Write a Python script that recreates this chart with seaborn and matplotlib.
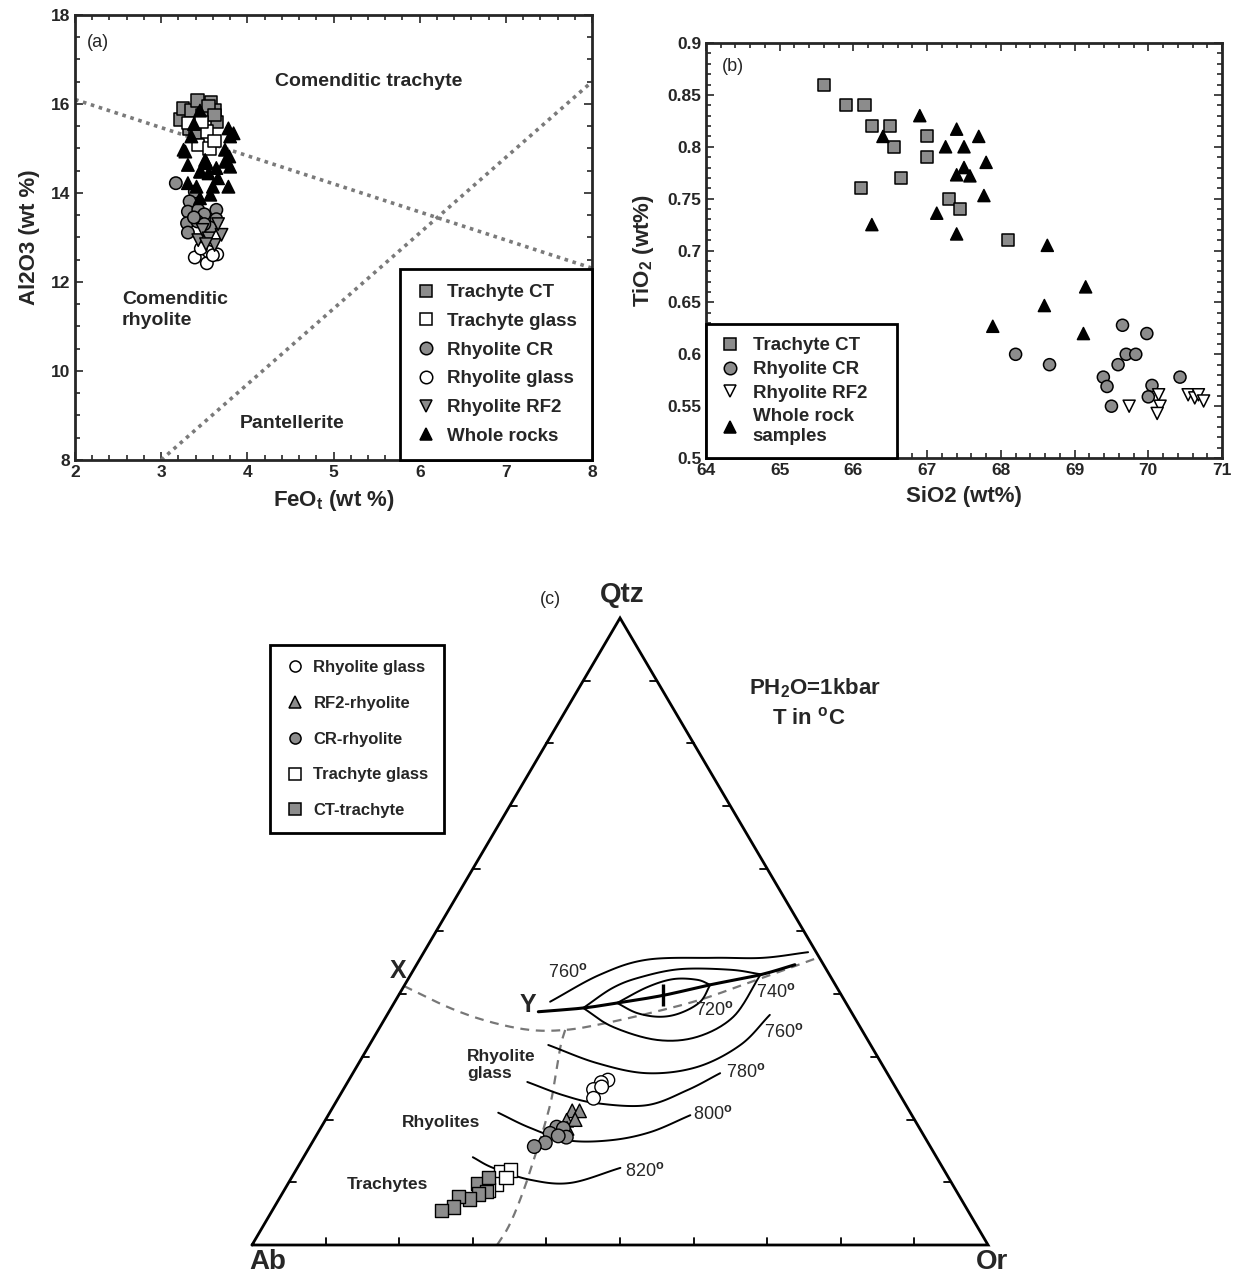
import numpy as np
import pandas as pd
import matplotlib
matplotlib.use("Agg")
import matplotlib.pyplot as plt
from matplotlib.lines import Line2D
from matplotlib.ticker import MultipleLocator, FuncFormatter
import seaborn as sns

sns.set_style("ticks")
plt.rcParams["font.family"] = ["Liberation Sans", "DejaVu Sans"]
plt.rcParams["font.weight"] = "bold"
plt.rcParams["axes.labelweight"] = "bold"
plt.rcParams["mathtext.fontset"] = "custom"
plt.rcParams["mathtext.rm"] = "Liberation Sans"
plt.rcParams["mathtext.bf"] = "Liberation Sans:bold"
plt.rcParams["mathtext.default"] = "bf"

GRAY = "#8c8c8c"

# ---------------- (a) FeOt vs Al2O3 ----------------
a_ct_feo = [3.22, 3.25, 3.35, 3.42, 3.48, 3.58, 3.62, 3.65, 3.32, 3.40, 3.55, 3.62]
a_ct_al = [15.65, 15.90, 15.85, 16.08, 15.75, 16.05, 15.85, 15.60, 15.45, 15.35, 15.95, 15.75]
a_tg_feo = [3.31, 3.43, 3.53, 3.56, 3.62, 3.47]
a_tg_al = [15.57, 15.08, 15.38, 15.00, 15.17, 15.60]
a_cr_feo = [3.17, 3.39, 3.33, 3.31, 3.43, 3.50, 3.64, 3.30, 3.42, 3.64, 3.57, 3.31, 3.50, 3.38]
a_cr_al = [14.22, 14.03, 13.81, 13.58, 13.62, 13.52, 13.62, 13.32, 13.36, 13.41, 13.22, 13.11, 13.30, 13.45]
a_rg_feo = [3.39, 3.53, 3.65, 3.55, 3.46, 3.60]
a_rg_al = [12.55, 12.42, 12.62, 12.68, 12.75, 12.60]
a_rf2_feo = [3.43, 3.48, 3.55, 3.62, 3.70, 3.66, 3.52]
a_rf2_al = [12.94, 13.17, 12.98, 12.83, 13.06, 13.30, 12.85]
a_wr_feo = [3.45, 3.38, 3.78, 3.80, 3.84, 3.26, 3.74, 3.28, 3.31, 3.51, 3.45, 3.55, 3.64,
            3.74, 3.80, 3.66, 3.41, 3.60, 3.78, 3.57, 3.45, 3.31, 3.53, 3.46, 3.79, 3.35]
a_wr_al = [15.85, 15.55, 15.45, 15.27, 15.34, 14.97, 14.97, 14.93, 14.63, 14.74, 14.48, 14.44, 14.56,
           14.70, 14.59, 14.33, 14.14, 14.14, 14.14, 13.96, 13.88, 14.22, 14.67, 14.48, 14.82, 15.27]
# dividing lines of the classification field
a_line1_x = [2.0, 8.0]
a_line1_y = [16.1, 12.31]
a_line2_x = [3.0, 8.0]
a_line2_y = [8.0, 16.5]

a_labels = ["Trachyte CT", "Trachyte glass", "Rhyolite CR", "Rhyolite glass", "Rhyolite RF2", "Whole rocks"]

# ---------------- (b) SiO2 vs TiO2 ----------------
b_ct_si = [65.6, 65.9, 66.15, 66.25, 66.5, 66.55, 67.0, 67.0, 66.65, 66.1, 67.3, 67.45, 68.1]
b_ct_ti = [0.86, 0.84, 0.84, 0.82, 0.82, 0.80, 0.81, 0.79, 0.77, 0.76, 0.75, 0.74, 0.71]
b_cr_si = [68.2, 68.66, 69.65, 69.98, 69.7, 69.83, 69.59, 69.39, 69.44, 69.5, 70.05, 70.0, 70.43]
b_cr_ti = [0.60, 0.59, 0.628, 0.62, 0.60, 0.60, 0.59, 0.578, 0.569, 0.55, 0.57, 0.559, 0.578]
b_rf2_si = [69.74, 70.14, 70.16, 70.12, 70.54, 70.63, 70.68, 70.75]
b_rf2_ti = [0.55, 0.561, 0.55, 0.543, 0.561, 0.558, 0.561, 0.555]
b_wr_si = [66.9, 66.4, 66.25, 67.25, 67.4, 67.7, 67.5, 67.5, 67.4, 67.58, 67.8, 67.77, 67.13,
           67.4, 68.63, 69.15, 68.59, 69.12, 67.89]
b_wr_ti = [0.83, 0.81, 0.725, 0.80, 0.817, 0.81, 0.80, 0.78, 0.773, 0.772, 0.785, 0.753, 0.736,
           0.716, 0.705, 0.665, 0.647, 0.62, 0.627]
b_labels = ["Trachyte CT", "Rhyolite CR", "Rhyolite RF2", "Whole rock\nsamples"]

# ---------------- (c) Qtz-Ab-Or (wt %, Ab = 100 - Qtz - Or) ----------------
c_rg_q = [26.3, 25.9, 24.8, 25.2, 23.4]
c_rg_or = [35.2, 34.5, 34.0, 34.9, 34.7]
c_rf2_q = [21.4, 21.4, 19.9, 20.0, 18.6]
c_rf2_or = [32.8, 33.8, 32.8, 33.9, 33.5]
c_cr_q = [18.8, 17.8, 18.6, 17.2, 16.3, 15.7, 17.4]
c_cr_or = [32.0, 31.6, 33.0, 34.1, 31.7, 30.5, 32.9]
c_tg_q = [11.7, 12.0, 9.7, 10.8, 8.8]
c_tg_or = [27.9, 29.1, 28.3, 29.1, 27.7]
c_ct_q = [9.8, 10.8, 8.5, 8.1, 7.3, 7.7, 6.1, 5.5]
c_ct_or = [25.8, 26.7, 27.6, 26.7, 25.9, 24.2, 24.3, 23.0]
c_labels = ["Rhyolite glass", "RF2-rhyolite", "CR-rhyolite", "Trachyte glass", "CT-trachyte"]

# phase boundaries (dashed)
bnd_x_q = [41.3, 37.8, 35.6, 34.3, 34.3, 35.2, 37.0, 39.1, 41.9, 44.2, 45.9]
bnd_x_or = [0.0, 8.0, 14.5, 20.6, 25.4, 29.7, 35.6, 41.3, 46.7, 51.0, 54.1]
bnd_v_q = [34.3, 31.9, 27.4, 23.1, 18.3, 14.4, 10.4, 6.1, 2.7, 0.0]
bnd_v_or = [25.4, 26.0, 27.6, 29.1, 30.4, 31.3, 32.2, 33.0, 33.4, 33.3]
# cotectic from Y
cot_q = [37.2, 37.8, 38.6, 39.8, 41.5, 43.1, 44.7]
cot_or = [20.3, 26.1, 30.3, 35.9, 41.5, 47.5, 51.4]
minimum_q, minimum_or = 39.8, 35.9
# isotherms
iso_720_up_q = [38.6, 41.1, 42.4, 42.3, 41.5]
iso_720_up_or = [30.3, 33.1, 36.0, 39.3, 41.5]
iso_720_lo_q = [38.6, 37.0, 36.4, 37.0, 38.8, 41.5]
iso_720_lo_or = [30.3, 33.8, 37.2, 39.7, 41.5, 41.5]
iso_740_up_q = [37.8, 41.0, 42.7, 44.0, 43.9, 43.2]
iso_740_up_or = [26.1, 28.5, 31.4, 36.2, 43.0, 47.4]
iso_740_lo_q = [37.8, 34.8, 32.7, 33.2, 36.4, 42.3, 43.1]
iso_740_lo_or = [26.1, 31.6, 38.7, 43.9, 47.2, 47.5, 47.5]
iso_760_up_q = [38.8, 43.1, 45.5, 45.8, 45.8, 46.7]
iso_760_up_or = [21.1, 25.7, 30.9, 39.7, 46.5, 52.2]
iso_760_lo_q = [31.9, 29.0, 27.4, 28.4, 31.9, 36.7]
iso_760_lo_or = [24.3, 32.4, 40.0, 46.3, 50.4, 52.0]
iso_780_q = [26.0, 23.9, 22.6, 22.3, 24.7, 27.4]
iso_780_or = [24.4, 30.3, 35.6, 42.5, 46.8, 49.9]
iso_800_q = [21.1, 18.7, 16.7, 16.7, 18.0, 20.7]
iso_800_or = [22.9, 28.4, 34.5, 40.3, 45.1, 49.2]
iso_820_q = [14.0, 12.3, 10.4, 9.9, 12.3]
iso_820_or = [23.0, 26.6, 32.6, 38.3, 43.9]

H = np.sqrt(3) / 2


def tern(q, o):
    q = np.asarray(q, float) / 100.0
    o = np.asarray(o, float) / 100.0
    return o + q / 2.0, q * H


def smooth(xs, ys, n=24):
    pts = np.column_stack([xs, ys])
    P = np.vstack([2 * pts[0] - pts[1], pts, 2 * pts[-1] - pts[-2]])
    out = []
    t = np.linspace(0, 1, n, endpoint=False)[:, None]
    for i in range(1, len(P) - 2):
        p0, p1, p2, p3 = P[i - 1], P[i], P[i + 1], P[i + 2]
        seg = 0.5 * ((2 * p1) + (-p0 + p2) * t + (2 * p0 - 5 * p1 + 4 * p2 - p3) * t ** 2
                     + (-p0 + 3 * p1 - 3 * p2 + p3) * t ** 3)
        out.append(seg)
    out.append(pts[-1][None])
    s = np.vstack(out)
    return s[:, 0], s[:, 1]


def style_frame(ax):
    for sp in ax.spines.values():
        sp.set_linewidth(2)
        sp.set_visible(True)
    ax.tick_params(which="both", direction="in", top=True, right=True, width=1.2, labelsize=12.5)
    ax.tick_params(which="major", length=6)
    ax.tick_params(which="minor", length=3.5)


def boxed_legend(ax, handles, labels, **kw):
    leg = ax.legend(handles, labels, frameon=True, fancybox=False, framealpha=1,
                    edgecolor="black", prop={"weight": "bold", "size": kw.pop("size", 13.5)},
                    **kw)
    leg.get_frame().set_linewidth(2)
    return leg


fig = plt.figure(figsize=(12.36, 12.77), dpi=100)

# ================= panel (a) =================
axa = fig.add_axes([0.0607, 0.6398, 0.4183, 0.3485])
groups_a = [
    (a_ct_feo, a_ct_al, "s", GRAY, 85),
    (a_tg_feo, a_tg_al, "s", "white", 85),
    (a_cr_feo, a_cr_al, "o", GRAY, 75),
    (a_rg_feo, a_rg_al, "o", "white", 75),
    (a_rf2_feo, a_rf2_al, "v", GRAY, 85),
    (a_wr_feo, a_wr_al, "^", "black", 85),
]
rows = []
for lab, (xs, ys, m, c, s) in zip(a_labels, groups_a):
    for x, y in zip(xs, ys):
        rows.append({"FeOt": x, "Al2O3": y, "Type": lab})
dfa = pd.DataFrame(rows)
axa.plot(a_line1_x, a_line1_y, ls=(0, (1, 1.3)), lw=2.6, color="#7a7a7a", zorder=1)
axa.plot(a_line2_x, a_line2_y, ls=(0, (1, 1.3)), lw=2.6, color="#7a7a7a", zorder=1)
sns.scatterplot(data=dfa, x="FeOt", y="Al2O3", hue="Type", style="Type",
                hue_order=a_labels, style_order=a_labels,
                palette={l: g[3] for l, g in zip(a_labels, groups_a)},
                markers={l: g[2] for l, g in zip(a_labels, groups_a)},
                s=80, edgecolor="black", linewidth=1.1, legend=False, ax=axa, zorder=3)
axa.set_xlim(2, 8)
axa.set_ylim(8, 18)
axa.xaxis.set_major_locator(MultipleLocator(1))
axa.xaxis.set_minor_locator(MultipleLocator(0.2))
axa.yaxis.set_major_locator(MultipleLocator(2))
axa.yaxis.set_minor_locator(MultipleLocator(0.5))
style_frame(axa)
axa.set_xlabel(r"FeO$_\mathbf{t}$ (wt %)", fontsize=16, labelpad=6)
axa.set_ylabel("Al2O3 (wt %)", fontsize=16, labelpad=8)
axa.text(2.27, 17.37, "(a)", fontsize=13, fontweight="normal", ha="center", va="center")
axa.text(5.41, 16.5, "Comenditic trachyte", fontsize=14, ha="center", va="center")
axa.text(2.545, 11.37, "Comenditic\nrhyolite", fontsize=14, ha="left", va="center", linespacing=1.3)
axa.text(4.52, 8.83, "Pantellerite", fontsize=14, ha="center", va="center")
ha_ = [Line2D([], [], ls="", marker=g[2], mfc=g[3], mec="black", mew=1.1, ms=9) for g in groups_a]
boxed_legend(axa, ha_, a_labels, loc="lower left", bbox_to_anchor=(0.629, 0.0, 0.371, 0.458),
             mode="expand", labelspacing=0.62, handletextpad=0.5, borderpad=0.8,
             handlelength=1.2, borderaxespad=0)

# ================= panel (b) =================
axb = fig.add_axes([0.5712, 0.6413, 0.4175, 0.325])
groups_b = [
    (b_ct_si, b_ct_ti, "s", GRAY),
    (b_cr_si, b_cr_ti, "o", GRAY),
    (b_rf2_si, b_rf2_ti, "v", "white"),
    (b_wr_si, b_wr_ti, "^", "black"),
]
rows = []
for lab, (xs, ys, m, c) in zip(b_labels, groups_b):
    for x, y in zip(xs, ys):
        rows.append({"SiO2": x, "TiO2": y, "Type": lab})
dfb = pd.DataFrame(rows)
sns.scatterplot(data=dfb, x="SiO2", y="TiO2", hue="Type", style="Type",
                hue_order=b_labels, style_order=b_labels,
                palette={l: g[3] for l, g in zip(b_labels, groups_b)},
                markers={l: g[2] for l, g in zip(b_labels, groups_b)},
                s=75, edgecolor="black", linewidth=1.1, legend=False, ax=axb, zorder=3)
axb.set_xlim(64, 71)
axb.set_ylim(0.5, 0.9)
axb.xaxis.set_major_locator(MultipleLocator(1))
axb.xaxis.set_minor_locator(MultipleLocator(0.2))
axb.yaxis.set_major_locator(MultipleLocator(0.05))
axb.yaxis.set_minor_locator(MultipleLocator(0.01))
axb.yaxis.set_major_formatter(FuncFormatter(lambda v, p: f"{v:g}"))
style_frame(axb)
axb.set_xlabel("SiO2 (wt%)", fontsize=16, labelpad=6)
axb.set_ylabel(r"TiO$_2$ (wt%)", fontsize=16, labelpad=8)
axb.text(64.36, 0.877, "(b)", fontsize=13, fontweight="normal", ha="center", va="center")
hb_ = [Line2D([], [], ls="", marker=g[2], mfc=g[3], mec="black", mew=1.1, ms=9) for g in groups_b]
boxed_legend(axb, hb_, b_labels, loc="lower left", bbox_to_anchor=(0.0, 0.0, 0.37, 0.39),
             mode="expand", labelspacing=0.35, handletextpad=0.6, borderpad=0.7,
             handlelength=1.2, borderaxespad=0)

# ================= panel (c) =================
axc = fig.add_axes([0.2039, 0.02506, 0.5955, 0.491])
axc.set_xlim(0, 1)
axc.set_ylim(0, H)
axc.axis("off")

# triangle frame and 10 % ticks
axc.plot([0, 1, 0.5, 0], [0, 0, H, 0], color="black", lw=2, clip_on=False, zorder=2,
         solid_joinstyle="miter")
tx, ty = 7 / 736, 7 * H / 627
for k in range(1, 10):
    f = k / 10
    axc.plot([f, f], [0, ty], color="black", lw=1.3)
    axc.plot([f / 2, f / 2 + tx], [f * H, f * H], color="black", lw=1.3)
    axc.plot([1 - f / 2, 1 - f / 2 - tx], [f * H, f * H], color="black", lw=1.3)

dash = dict(color="#777777", lw=1.6, ls=(0, (4, 3)), zorder=1)
axc.plot(*smooth(*tern(bnd_x_q, bnd_x_or)), **dash)
axc.plot(*smooth(*tern(bnd_v_q, bnd_v_or)), **dash)

solid = dict(color="black", lw=1.4, zorder=2)
for q, o in [(iso_720_up_q, iso_720_up_or), (iso_720_lo_q, iso_720_lo_or),
             (iso_740_up_q, iso_740_up_or), (iso_740_lo_q, iso_740_lo_or),
             (iso_760_up_q, iso_760_up_or), (iso_760_lo_q, iso_760_lo_or),
             (iso_780_q, iso_780_or), (iso_800_q, iso_800_or), (iso_820_q, iso_820_or)]:
    axc.plot(*smooth(*tern(q, o)), **solid)
axc.plot(*smooth(*tern(cot_q, cot_or)), color="black", lw=2.2, zorder=2)
mx, my = tern([minimum_q], [minimum_or])
axc.plot(mx, my, marker="|", ms=16, mew=2.4, color="black", ls="", zorder=3)

groups_c = [
    (c_rg_q, c_rg_or, "o", "white"),
    (c_rf2_q, c_rf2_or, "^", GRAY),
    (c_cr_q, c_cr_or, "o", GRAY),
    (c_tg_q, c_tg_or, "s", "white"),
    (c_ct_q, c_ct_or, "s", GRAY),
]
rows = []
for lab, (qs, os_, m, c) in zip(c_labels, groups_c):
    xs, ys = tern(qs, os_)
    for x, y in zip(xs, ys):
        rows.append({"x": x, "y": y, "Type": lab})
dfc = pd.DataFrame(rows)
sns.scatterplot(data=dfc, x="x", y="y", hue="Type", style="Type",
                hue_order=c_labels, style_order=c_labels,
                palette={l: g[3] for l, g in zip(c_labels, groups_c)},
                markers={l: g[2] for l, g in zip(c_labels, groups_c)},
                s=95, edgecolor="black", linewidth=1.0, legend=False, ax=axc, zorder=4)
axc.set_xlabel("")
axc.set_ylabel("")

T = axc.transAxes
axc.text(0.503, 1.037, "Qtz", transform=T, fontsize=20, ha="center", va="center")
axc.text(0.406, 1.030, "(c)", transform=T, fontsize=13, fontweight="normal", ha="center", va="center")
axc.text(0.022, -0.027, "Ab", transform=T, fontsize=20, ha="center", va="center")
axc.text(1.005, -0.027, "Or", transform=T, fontsize=20, ha="center", va="center")
axc.text(0.198, 0.437, "X", transform=T, fontsize=18, ha="center", va="center")
axc.text(0.375, 0.383, "Y", transform=T, fontsize=18, ha="center", va="center")
iso_txt = dict(transform=T, fontsize=13, fontweight="normal", ha="center", va="center")
axc.text(0.429, 0.435, r"760$^{\mathrm{o}}$", **iso_txt)
axc.text(0.629, 0.375, r"720$^{\mathrm{o}}$", **iso_txt)
axc.text(0.712, 0.4035, r"740$^{\mathrm{o}}$", **iso_txt)
axc.text(0.723, 0.340, r"760$^{\mathrm{o}}$", **iso_txt)
axc.text(0.671, 0.276, r"780$^{\mathrm{o}}$", **iso_txt)
axc.text(0.626, 0.209, r"800$^{\mathrm{o}}$", **iso_txt)
axc.text(0.534, 0.118, r"820$^{\mathrm{o}}$", **iso_txt)
axc.text(0.292, 0.287, "Rhyolite\nglass", transform=T, fontsize=12.5, ha="left", va="center",
         linespacing=1.1)
axc.text(0.310, 0.196, "Rhyolites", transform=T, fontsize=12.5, ha="right", va="center")
axc.text(0.239, 0.0957, "Trachytes", transform=T, fontsize=12.5, ha="right", va="center")
axc.text(0.675, 0.888, r"PH$_2$O=1kbar", transform=T, fontsize=16, ha="left", va="center")
axc.text(0.7065, 0.8405, r"T in $^{\mathbf{o}}$C", transform=T, fontsize=16, ha="left", va="center")

hc_ = [Line2D([], [], ls="", marker=g[2], mfc=g[3], mec="black", mew=1.1, ms=8) for g in groups_c]
boxed_legend(axc, hc_, c_labels, size=12, loc="upper left", bbox_to_anchor=(0.0245, 0.957),
             labelspacing=1.25, handletextpad=0.5, borderpad=0.9, handlelength=1.2,
             borderaxespad=0)

fig.savefig("out.png", dpi=100)
